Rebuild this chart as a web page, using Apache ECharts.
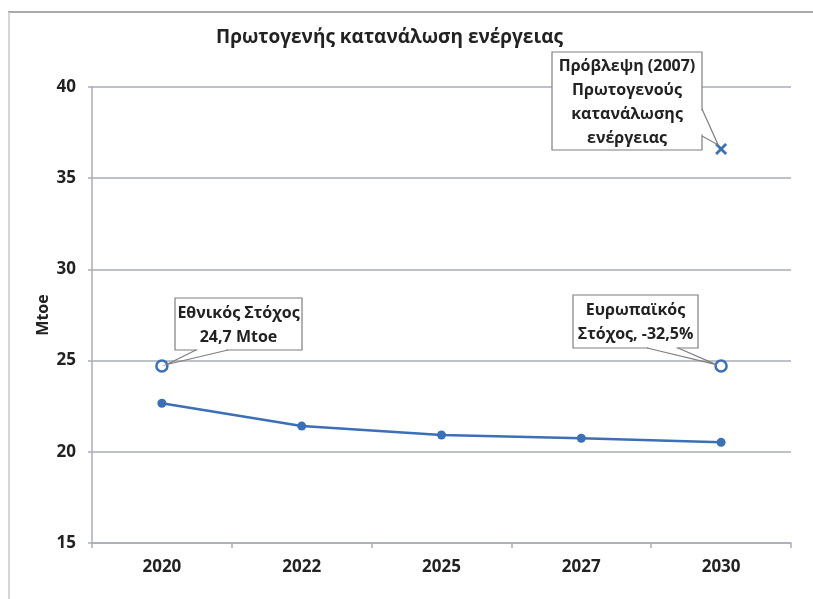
<!DOCTYPE html>
<html>
<head>
<meta charset="utf-8">
<script src="https://cdn.jsdelivr.net/npm/echarts@6/dist/echarts.min.js"></script>
<style>
html, body { margin:0; padding:0; background:#fff; }
#myChart { width:813px; height:599px; }
</style>
</head>
<body>
<div id="myChart"></div>
<script type="text/javascript">
// data
var years = ['2020', '2022', '2025', '2027', '2030'];
var consumption = [22.66, 21.41, 20.92, 20.74, 20.52];
var targets = [24.7, null, null, null, 24.7];
var projection = [null, null, null, null, 36.6];
var yTicks = [15, 20, 25, 30, 35, 40];

var blue = '#3b6fb6';
var font = '"Open Sans", "Noto Sans", sans-serif';

// callouts: which point, text, box offset from point, wedge on box side
var notes = [
	{ year: '2020', value: 24.7, text: 'Εθνικός Στόχος\n24,7 Mtoe', dx: 13, dy: -68, w: 127, h: 52, side: 'bottom', a: 21, b: 53 },
	{ year: '2030', value: 24.7, text: 'Ευρωπαϊκός\nΣτόχος, -32,5%', dx: -148, dy: -71, w: 125, h: 53, side: 'bottom', a: 74, b: 105 },
	{ year: '2030', value: 36.6, text: 'Πρόβλεψη (2007)\nΠρωτογενούς\nκατανάλωσης\nενέργειας', dx: -169, dy: -97, w: 150, h: 98, side: 'right', a: 57, b: 84 }
];

var chart = echarts.init(document.getElementById('myChart'));

var option = {
	backgroundColor: '#fff',
	animation: false,
	title: {
		text: 'Πρωτογενής κατανάλωση ενέργειας',
		left: 211,
		top: 23,
		textStyle: { fontFamily: font, fontSize: 19, fontWeight: 'bold', color: '#222' }
	},
	grid: { left: 92, right: 22, top: 87, bottom: 56 },
	xAxis: {
		type: 'category',
		data: years,
		boundaryGap: true,
		axisLine: { lineStyle: { color: '#a9adb5', width: 1.5 } },
		axisTick: { show: true, length: 5, lineStyle: { color: '#a9adb5', width: 1.5 } },
		axisLabel: { margin: 16, fontFamily: font, fontSize: 17, fontWeight: 'bold', color: '#222' }
	},
	yAxis: {
		type: 'value',
		min: yTicks[0],
		max: yTicks[yTicks.length - 1],
		interval: 5,
		axisLine: { show: true, lineStyle: { color: '#a9adb5', width: 1.5 } },
		axisTick: { show: true, length: 4, lineStyle: { color: '#a9adb5', width: 1.5 } },
		axisLabel: { margin: 16, fontFamily: font, fontSize: 17, fontWeight: 'bold', color: '#222' },
		splitLine: { lineStyle: { color: '#a9adb5', width: 1.5 } }
	},
	series: [
		{
			name: 'Κατανάλωση',
			type: 'line',
			data: consumption,
			symbol: 'circle',
			symbolSize: 9,
			lineStyle: { color: blue, width: 2.5 },
			itemStyle: { color: blue }
		},
		{
			name: 'Στόχος',
			type: 'scatter',
			data: targets,
			symbol: 'circle',
			symbolSize: 11,
			z: 5,
			itemStyle: { color: '#fff', borderColor: blue, borderWidth: 2.5, opacity: 1 }
		},
		{
			name: 'Πρόβλεψη',
			type: 'scatter',
			data: projection,
			symbol: 'path://M0,1.6 L1.6,0 L5,3.4 L8.4,0 L10,1.6 L6.6,5 L10,8.4 L8.4,10 L5,6.6 L1.6,10 L0,8.4 L3.4,5 Z',
			symbolSize: 12,
			z: 5,
			itemStyle: { color: blue, opacity: 1 }
		}
	]
};
chart.setOption(option);

//frame, axis name and callout boxes placed from the data points
var g = [
	{ type: 'line', shape: { x1: 8, y1: 12, x2: 813, y2: 12 }, style: { stroke: '#8c8c8c', lineWidth: 1.5 }, silent: true },
	{ type: 'line', shape: { x1: 9, y1: 12, x2: 9, y2: 599 }, style: { stroke: '#c8c8c8', lineWidth: 1.5 }, silent: true },
	{ type: 'text', x: 43, y: 315, rotation: Math.PI / 2,
		style: { text: 'Mtoe', align: 'center', verticalAlign: 'middle', font: 'bold 16px ' + font, fill: '#222' } }
];
notes.forEach(function(n) {
	var p = chart.convertToPixel({ gridIndex: 0 }, [n.year, n.value]);
	var x = Math.round(p[0] + n.dx), y = Math.round(p[1] + n.dy);
	var s1, s2, gap;
	if (n.side == 'bottom') {
		s1 = [x + n.a, y + n.h]; s2 = [x + n.b, y + n.h];
		gap = { x1: s1[0] + 1.5, y1: s1[1], x2: s2[0] - 1.5, y2: s2[1] };
	} else {
		s1 = [x + n.w, y + n.a]; s2 = [x + n.w, y + n.b];
		gap = { x1: s1[0], y1: s1[1] + 1.5, x2: s2[0], y2: s2[1] - 1.5 };
	}
	// stop the wedge at the rim of the marker
	var mid = [(s1[0] + s2[0]) / 2, (s1[1] + s2[1]) / 2];
	var d = Math.sqrt(Math.pow(mid[0] - p[0], 2) + Math.pow(mid[1] - p[1], 2));
	var tip = [p[0] + (mid[0] - p[0]) * 5 / d, p[1] + (mid[1] - p[1]) * 5 / d];
	g.push({ type: 'rect', z: 100, shape: { x: x, y: y, width: n.w, height: n.h },
		style: { fill: '#fff', stroke: '#7f7f7f', lineWidth: 1.2 } });
	g.push({ type: 'line', z: 101, shape: gap, style: { stroke: '#fff', lineWidth: 2.5 } });
	g.push({ type: 'polyline', z: 102, shape: { points: [s1, tip, s2] },
		style: { stroke: '#7f7f7f', lineWidth: 1.2, fill: null } });
	g.push({ type: 'text', z: 103, x: x + n.w / 2, y: y + n.h / 2 + 1,
		style: { text: n.text, align: 'center', verticalAlign: 'middle', lineHeight: 24,
			font: 'bold 16px ' + font, fill: '#222' } });
});
chart.setOption({ graphic: g });
</script>
</body>
</html>
